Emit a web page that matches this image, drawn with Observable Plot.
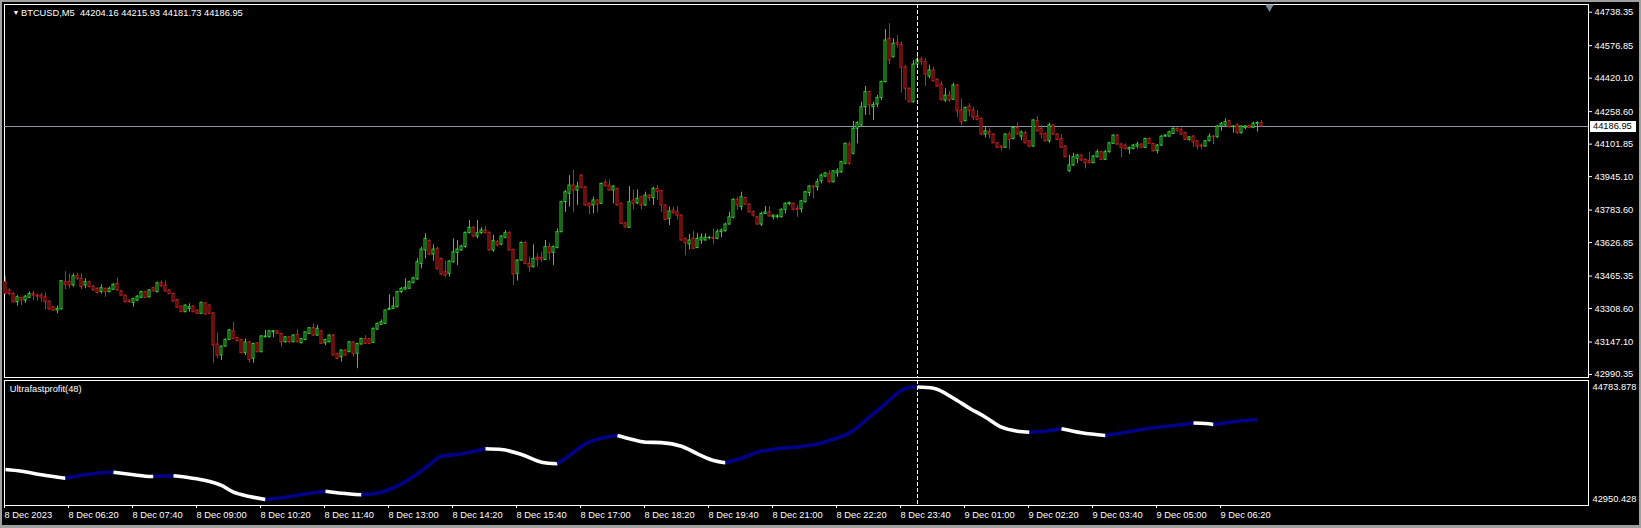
<!DOCTYPE html>
<html><head><meta charset="utf-8">
<script src="https://cdn.jsdelivr.net/npm/d3@7"></script>
<script src="https://cdn.jsdelivr.net/npm/@observablehq/plot@0.6"></script>
<style>
html,body{margin:0;padding:0;background:#000;}
#wrap{position:relative;width:1641px;height:528px;background:#000;overflow:hidden;}
#wrap svg{position:absolute;left:0;top:0;}
#border{position:absolute;left:0;top:0;width:1641px;height:528px;box-sizing:border-box;border:2px solid #a0a0a0;border-bottom-width:3px;pointer-events:none;}
</style></head><body><div id="wrap"><div id="border"></div></div>
<script>
// ---------- data ----------
const symbolHeader = "BTCUSD,M5  44204.16 44215.93 44181.73 44186.95";
const indicatorName = "Ultrafastprofit(48)";
const timeLabels = ["8 Dec 2023","8 Dec 06:20","8 Dec 07:40","8 Dec 09:00","8 Dec 10:20","8 Dec 11:40","8 Dec 13:00","8 Dec 14:20","8 Dec 15:40","8 Dec 17:00","8 Dec 18:20","8 Dec 19:40","8 Dec 21:00","8 Dec 22:20","8 Dec 23:40","9 Dec 01:00","9 Dec 02:20","9 Dec 03:40","9 Dec 05:00","9 Dec 06:20"];
const tickBars = [0,16,32,48,64,80,96,112,128,144,160,176,192,208,224,240,256,272,288,304];
const priceTicks = [44738.35,44576.85,44420.10,44258.60,44101.85,43945.10,43783.60,43626.85,43465.35,43308.60,43147.10,42990.35];
const indTicks = [44783.878,42950.428];
const lastClose = 44186.95;
const crossBar = 228;
const shiftBar = 316;

const opens = [43436,43396,43379,43339,43360,43347,43360,43379,43371,43371,
43363,43342,43315,43299,43304,43436,43436,43420,43465,43452,
43420,43436,43415,43404,43388,43404,43388,43399,43428,43392,
43371,43347,43336,43347,43360,43388,43363,43407,43388,43431,
43420,43396,43379,43350,43318,43291,43307,43318,43299,43283,
43334,43323,43286,43135,43082,43125,43157,43199,43167,43157,
43093,43146,43066,43141,43098,43170,43170,43194,43199,43186,
43146,43170,43146,43181,43141,43157,43186,43214,43178,43199,
43141,43146,43178,43090,43074,43106,43098,43146,43090,43135,
43162,43161,43143,43207,43230,43235,43302,43307,43315,43388,
43400,43404,43431,43449,43524,43589,43634,43569,43597,43548,
43484,43476,43532,43577,43589,43605,43672,43698,43656,43672,
43685,43674,43589,43629,43617,43650,43674,43592,43476,43540,
43625,43524,43508,43553,43553,43543,43605,43577,43601,43677,
43822,43862,43902,43878,43950,43894,43814,43806,43830,43814,
43915,43902,43878,43886,43814,43720,43698,43830,43816,43846,
43806,43854,43841,43886,43875,43806,43741,43781,43773,43757,
43645,43618,43645,43601,43637,43637,43648,43650,43645,43677,
43682,43714,43746,43833,43798,43842,43810,43773,43749,43714,
43765,43773,43749,43749,43749,43785,43812,43814,43790,43787,
43822,43866,43897,43894,43923,43945,43958,43918,43961,43966,
44007,44100,44055,44176,44192,44280,44353,44280,44293,44325,
44401,44610,44521,44591,44581,44473,44369,44304,44486,44510,
44497,44428,44457,44412,44389,44312,44336,44316,44385,44264,
44213,44283,44264,44235,44224,44148,44160,44148,44106,44090,
44084,44148,44127,44180,44138,44155,44116,44090,44213,44176,
44151,44116,44192,44148,44127,44090,43971,43999,44031,44047,
44026,44020,44010,44039,44063,44026,44063,44103,44143,44100,
44095,44076,44079,44090,44100,44084,44127,44103,44068,44095,
44138,44138,44151,44176,44171,44155,44122,44138,44116,44095,
44090,44116,44138,44135,44187,44192,44213,44184,44192,44155,
44180,44190,44180,44200,44204.16];
const highs = [43463,43404,43385,43371,43363,43371,43389,43392,43379,43383,
43383,43345,43318,43320,43444,43487,43476,43476,43479,43476,
43452,43441,43418,43408,43423,43407,43412,43428,43455,43396,
43374,43350,43358,43371,43392,43392,43400,43412,43436,43441,
43441,43400,43383,43353,43320,43326,43331,43320,43302,43340,
43337,43326,43289,43190,43128,43162,43208,43243,43170,43160,
43161,43149,43141,43144,43178,43203,43203,43203,43203,43189,
43174,43174,43183,43206,43164,43197,43217,43235,43227,43203,
43160,43183,43183,43093,43109,43109,43149,43149,43141,43165,
43178,43164,43214,43238,43254,43302,43376,43363,43392,43410,
43452,43441,43460,43548,43605,43669,43640,43616,43605,43552,
43537,43540,43645,43637,43613,43678,43733,43703,43733,43698,
43704,43678,43662,43637,43661,43685,43678,43595,43545,43630,
43630,43556,43616,43573,43580,43637,43624,43610,43693,43826,
43878,43950,43975,43918,43955,43898,43818,43846,43834,43914,
43929,43929,43902,43890,43818,43724,43897,43881,43881,43850,
43870,43858,43894,43902,43878,43810,43798,43798,43801,43761,
43648,43666,43682,43669,43669,43669,43656,43693,43688,43693,
43720,43773,43838,43846,43870,43846,43814,43781,43753,43773,
43801,43801,43760,43762,43790,43818,43822,43818,43806,43830,
43874,43902,43902,43934,43958,43966,43974,43974,43983,44018,
44107,44111,44211,44210,44304,44380,44357,44304,44337,44405,
44655,44682,44610,44626,44594,44481,44373,44505,44537,44521,
44513,44481,44473,44417,44404,44369,44356,44396,44389,44320,
44280,44296,44280,44264,44228,44184,44176,44152,44110,44094,
44152,44160,44184,44204,44165,44164,44119,44220,44235,44192,
44155,44203,44196,44152,44148,44094,44047,44058,44052,44052,
44031,44063,44047,44074,44068,44071,44110,44148,44148,44106,
44103,44087,44100,44111,44103,44130,44132,44106,44100,44143,
44148,44164,44180,44180,44180,44160,44138,44143,44119,44103,
44119,44151,44143,44192,44206,44224,44216,44190,44200,44190,
44190,44192,44208,44208,44215.93];
const lows = [43374,43371,43336,43320,43323,43334,43358,43347,43344,43339,
43302,43302,43296,43283,43302,43400,43404,43412,43444,43400,
43404,43408,43392,43380,43379,43363,43384,43396,43392,43368,
43336,43336,43315,43342,43358,43358,43360,43389,43384,43412,
43388,43376,43339,43309,43288,43288,43291,43288,43280,43280,
43277,43280,43045,43066,43058,43122,43154,43159,43148,43090,
43082,43045,43045,43095,43095,43167,43167,43167,43183,43122,
43141,43141,43143,43143,43138,43154,43183,43175,43175,43135,
43130,43143,43079,43063,43050,43079,43095,43074,43018,43133,
43135,43135,43141,43204,43227,43232,43299,43304,43312,43380,
43396,43400,43428,43445,43500,43548,43565,43537,43492,43468,
43457,43460,43528,43516,43585,43600,43669,43650,43645,43666,
43669,43585,43580,43608,43612,43645,43585,43420,43441,43537,
43520,43484,43504,43508,43532,43540,43540,43516,43597,43674,
43773,43798,43773,43806,43886,43802,43762,43766,43770,43810,
43894,43874,43814,43802,43713,43696,43694,43785,43810,43785,
43802,43826,43806,43830,43773,43733,43709,43765,43736,43632,
43564,43592,43593,43597,43618,43634,43640,43618,43640,43650,
43677,43710,43741,43781,43781,43806,43769,43749,43710,43704,
43761,43749,43736,43741,43745,43765,43806,43781,43749,43769,
43818,43849,43838,43875,43910,43940,43914,43914,43942,43961,
44002,43999,44050,44103,44187,44240,44240,44216,44277,44312,
44397,44486,44517,44566,44348,44312,44300,44300,44482,44481,
44380,44417,44401,44377,44309,44304,44304,44312,44229,44192,
44208,44235,44216,44213,44144,44132,44127,44103,44080,44068,
44080,44074,44122,44144,44119,44103,44084,44086,44160,44127,
44112,44106,44144,44119,44080,44035,43966,43995,44007,44018,
43982,44007,44007,44035,44023,44023,44058,44100,44096,44036,
44074,44052,44074,44079,44080,44080,44100,44063,44055,44090,
44135,44135,44148,44160,44145,44119,44116,44087,44074,44074,
44087,44113,44100,44130,44164,44188,44180,44155,44148,44150,
44171,44176,44176,44160,44181.73];
const closes = [43379,43379,43339,43363,43347,43366,43379,43371,43366,43360,
43339,43304,43299,43307,43441,43423,43420,43465,43452,43412,
43436,43412,43396,43383,43407,43388,43404,43423,43396,43371,
43339,43339,43355,43366,43388,43360,43396,43392,43431,43416,
43391,43379,43342,43312,43291,43323,43315,43291,43283,43336,
43280,43283,43130,43082,43125,43157,43203,43162,43151,43093,
43145,43061,43138,43098,43174,43174,43199,43199,43186,43146,
43170,43146,43178,43146,43161,43194,43214,43178,43211,43138,
43157,43178,43082,43066,43106,43082,43146,43090,43138,43162,
43138,43138,43211,43235,43243,43299,43307,43318,43388,43404,
43409,43436,43455,43532,43593,43645,43569,43593,43500,43473,
43468,43535,43580,43593,43608,43674,43698,43656,43672,43685,
43672,43589,43634,43613,43656,43672,43589,43473,43540,43625,
43524,43508,43548,43543,43545,43605,43576,43605,43677,43822,
43870,43902,43878,43897,43891,43806,43801,43830,43810,43910,
43899,43878,43897,43806,43717,43701,43822,43814,43838,43806,
43854,43841,43886,43870,43806,43736,43777,43769,43757,43637,
43624,43637,43597,43645,43650,43650,43650,43645,43677,43685,
43714,43749,43833,43806,43846,43810,43773,43757,43714,43765,
43773,43753,43757,43754,43785,43814,43818,43785,43785,43826,
43870,43897,43894,43918,43950,43961,43918,43971,43971,44015,
44103,44007,44176,44203,44280,44353,44288,44291,44325,44401,
44602,44505,44586,44582,44470,44369,44304,44486,44509,44497,
44438,44457,44405,44380,44316,44336,44312,44385,44261,44208,
44277,44261,44229,44219,44148,44164,44148,44106,44084,44084,
44148,44122,44180,44148,44159,44106,44090,44216,44164,44148,
44116,44192,44148,44122,44084,44039,43999,44039,44047,44023,
44010,44010,44042,44063,44026,44063,44106,44143,44100,44084,
44079,44084,44095,44100,44084,44127,44103,44068,44095,44138,
44143,44159,44176,44164,44148,44122,44135,44111,44090,44090,
44116,44138,44135,44187,44200,44208,44184,44187,44155,44187,
44187,44180,44200,44204,44186.95];

const indBars = [0,4,9,15,20,24,27,32,35,37,42,46,50,54,57,61,65,70,74,80,84,89,94,96,99,103,106,109,113,117,120,124,129,134,138,141,145,149,153,156,160,164,169,173,177,180,184,188,193,199,204,206,211,216,220,224,226,228,232,237,241,245,249,253,256,260,264,269,275,280,287,294,297,300,302,308,313];
const indValues = [43439,43412,43353,43298,43353,43386,43395,43353,43330,43324,43337,43304,43260,43179,43069,42999,42951,42988,43032,43086,43053,43027,43069,43113,43206,43369,43516,43656,43684,43733,43777,43765,43684,43558,43532,43667,43858,43950,43993,43940,43884,43878,43819,43695,43586,43549,43623,43721,43777,43814,43872,43912,44037,44292,44510,44727,44776,44783,44764,44601,44438,44292,44129,44063,44047,44063,44103,44037,43993,44047,44119,44168,44196,44190,44173,44227,44249];

// ---------- styles ----------
const UP = "#32d232", DOWN = "#d02020";
const IND_UP = "#000088", IND_DOWN = "#ffffff";
const FONT = "'Liberation Sans', Arial, sans-serif";
const W = 1641, H = 528;
const xDomain = [-0.25, 395.75];

const candles = opens.map((o, i) => ({i, open: o, high: highs[i], low: lows[i], close: closes[i], col: closes[i] >= o ? UP : DOWN}));

// indicator runs coloured by direction
const rows = [];
function pushRun(a, b, c, s) { for (let j = a; j <= b; j++) rows.push({bar: indBars[j], value: indValues[j], seg: s, color: c}); }
{
  let runStart = 0, runDir = null, seg = 0;
  for (let k = 0; k < indBars.length - 1; k++) {
    const d = indValues[k + 1] >= indValues[k] ? IND_UP : IND_DOWN;
    if (runDir === null) { runDir = d; runStart = k; }
    else if (d !== runDir) { pushRun(runStart, k, runDir, seg++); runDir = d; runStart = k; }
  }
  pushRun(runStart, indBars.length - 1, runDir, seg);
}

const baseStyle = {background: "transparent", color: "white", fontFamily: FONT, fontSize: "9.3px", overflow: "visible"};

const main = Plot.plot({
  width: W, height: H,
  marginLeft: 4, marginRight: 53, marginTop: 4, marginBottom: H - 377,
  style: baseStyle,
  color: {type: "identity"},
  x: {domain: xDomain, axis: null},
  y: {domain: [42975.9, 44775.5], axis: null},
  marks: [
    Plot.frame({stroke: "white"}),
    Plot.ruleY([lastClose], {stroke: "#8f98a2"}),
    Plot.ruleX(candles, {x: "i", y1: "low", y2: "high", stroke: "col"}),
    Plot.rect(candles, {x1: d => d.i - 0.25, x2: d => d.i + 0.25, y1: "open", y2: "close", fill: "black", stroke: "col"}),
    Plot.axisY(priceTicks, {anchor: "right", label: null, tickSize: 3, tickPadding: 3, tickFormat: d => d.toFixed(2)}),
    Plot.ruleX([crossBar], {stroke: "white", strokeDasharray: "4,2"}),
    Plot.text(["\u25BC"], {frameAnchor: "top-left", dx: 8, dy: 6, fontSize: 7, fill: "white"}),
    Plot.text([symbolHeader], {frameAnchor: "top-left", textAnchor: "start", lineAnchor: "top", dx: 16.5, dy: 5.2, fill: "white"}),
    Plot.dot([shiftBar], {x: d => d, frameAnchor: "top", dy: 2.5, symbol: "triangle", rotate: 180, r: 3.2, fill: "#778899", stroke: "none"})
  ]
});

const ind = Plot.plot({
  width: W, height: H,
  marginLeft: 4, marginRight: 53, marginTop: 380, marginBottom: H - 505,
  style: baseStyle,
  color: {type: "identity"},
  x: {domain: xDomain, axis: null},
  y: {domain: [42852.6, 44889.8], axis: null},
  marks: [
    Plot.frame({stroke: "white"}),
    Plot.line(rows, {x: "bar", y: "value", z: "seg", stroke: "color", strokeWidth: 3.6, curve: "monotone-x", strokeLinecap: "butt"}),
    Plot.ruleX([crossBar], {stroke: "white", strokeDasharray: "4,2"}),
    Plot.axisY(indTicks, {anchor: "right", label: null, tickSize: 0, tickPadding: 4, tickFormat: d => d.toFixed(3)}),
    Plot.axisX(tickBars, {anchor: "bottom", label: null, tickSize: 3, tickPadding: 3, textAnchor: "start", dx: -1, tickFormat: d => timeLabels[tickBars.indexOf(d)]}),
    Plot.text([indicatorName], {frameAnchor: "top-left", textAnchor: "start", lineAnchor: "top", dx: 5.3, dy: 5, fill: "white"})
  ]
});

const wrap = document.getElementById("wrap");
wrap.insertBefore(ind, wrap.firstChild);
wrap.insertBefore(main, wrap.firstChild);

// current price label box, positioned through the y scale
const yMain = main.scale("y");
const py = yMain.apply(lastClose);
const g = d3.select(main).append("g");
g.append("rect").attr("x", 1590).attr("y", Math.round(py) - 5).attr("width", 46).attr("height", 11).attr("fill", "white");
g.append("text").attr("x", 1593).attr("y", py).attr("dy", "0.34em").attr("fill", "black").attr("text-anchor", "start")
  .style("font-family", FONT).style("font-size", "9.3px").text(lastClose.toFixed(2));
</script></body></html>
